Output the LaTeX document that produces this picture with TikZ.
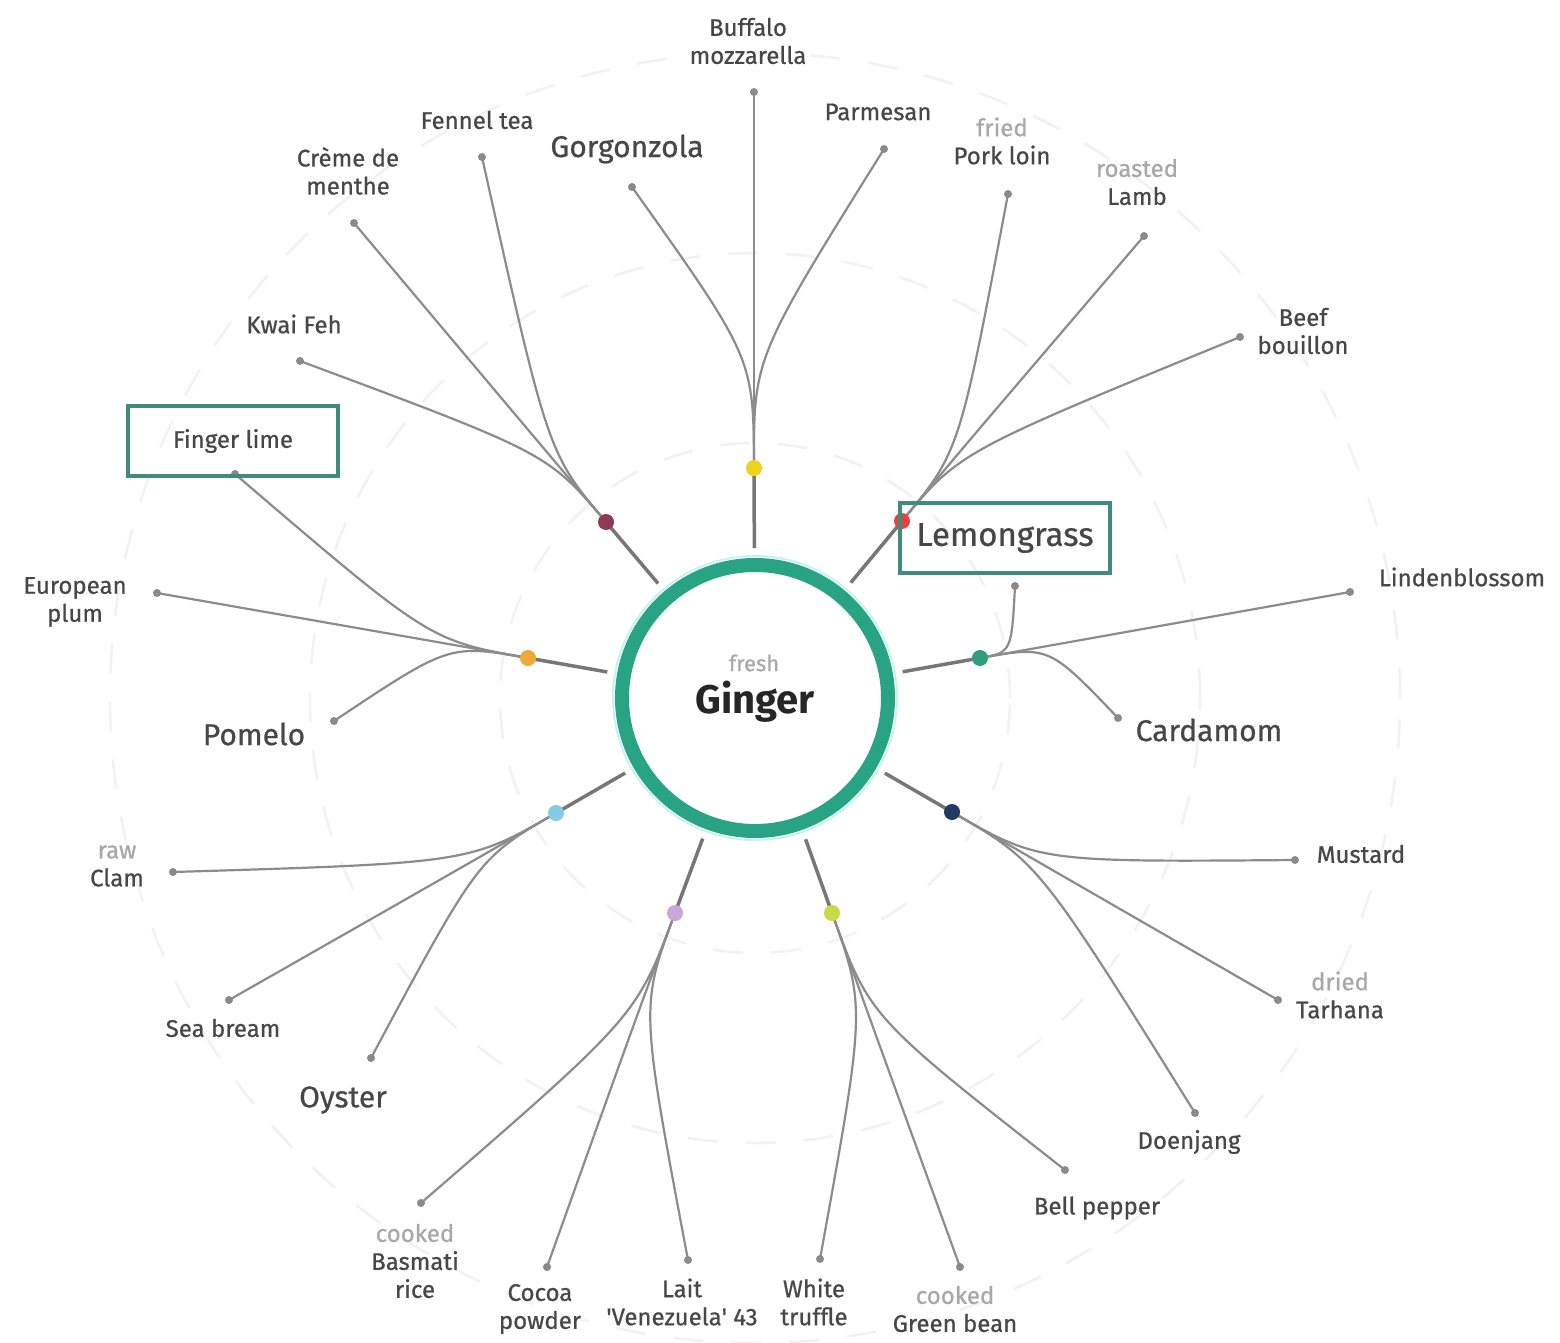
\documentclass[tikz,border=0pt]{standalone}
\usepackage{fontspec}
\setmainfont{Fira Sans}[FakeBold=0.7]
\newfontfamily\gingerfont{Fira Sans}[UprightFont={* Bold}, FakeBold=0]
\usetikzlibrary{calc}
\pgfdeclarelayer{back}
\pgfdeclarelayer{lines}
\pgfsetlayers{back,lines,main}
\definecolor{labc}{HTML}{474747}
\definecolor{modc}{HTML}{A8A8A8}
\definecolor{dotc}{HTML}{8A8A8A}
\definecolor{brc}{HTML}{8C8C8C}
\definecolor{spc}{HTML}{777777}
\definecolor{boxc}{HTML}{3F8B7D}
\definecolor{ringc}{HTML}{28A484}
\definecolor{haloc}{HTML}{C8F4EE}
\definecolor{faintc}{HTML}{F2F2F2}
\definecolor{cYel}{HTML}{EED21B}
\definecolor{cRed}{HTML}{E8403A}
\definecolor{cMar}{HTML}{8E3A55}
\definecolor{cOra}{HTML}{EEA93A}
\definecolor{cTea}{HTML}{2E9E7E}
\definecolor{cBlu}{HTML}{86CBE6}
\definecolor{cNav}{HTML}{203A60}
\definecolor{cPur}{HTML}{C9A6D6}
\definecolor{cGre}{HTML}{C9DA45}
\begin{document}
\begin{tikzpicture}[x=1pt,y=-1pt,
  lbl/.style={font=\fontsize{24}{28}\selectfont, text=labc, align=center, inner sep=1pt},
  biglbl/.style={font=\fontsize{30}{34}\selectfont, text=labc, align=center, inner sep=1pt},
  enddot/.style={circle, fill=dotc, inner sep=0pt, minimum size=8pt},
  hubdot/.style={circle, fill=#1, inner sep=0pt, minimum size=16pt},
  spokeln/.style={draw=spc, line width=3.5pt},
  brln/.style={draw=brc, line width=2.2pt},
  hlbox/.style={draw=boxc, line width=4pt, minimum height=70pt},
  faintcirc/.style={draw=faintc, line width=2.5pt, dash pattern=on 30pt off 28pt}
]
\useasboundingbox (0,0) rectangle (1560,1343);
\begin{pgfonlayer}{back}
  \fill[white] (0,0) rectangle (1560,1343);
  \draw[faintcirc] (755,698) circle (645pt);
  \draw[faintcirc] (755,698) circle (445pt);
  \draw[faintcirc] (755,698) circle (255pt);
  \draw[draw=haloc, line width=2pt] (755,698) circle (142pt);
\end{pgfonlayer}

% centre
\node[circle, draw=ringc, line width=14pt, minimum size=266pt, inner sep=0pt, outer sep=17pt] (ginger) at (755,698) {};
\node[font=\fontsize{22}{24}\selectfont, text=modc] (fresh) at (754,663) {fresh};
\node[font=\fontsize{40}{44}\gingerfont, text=black!85] (gname) at (755,702) {Ginger};

% hubs
\node[hubdot=cYel] (hY) at (754,468) {};
\node[hubdot=cRed] (hR) at (902,521) {};
\node[hubdot=cMar] (hM) at (606,522) {};
\node[hubdot=cOra] (hO) at (528,658) {};
\node[hubdot=cTea] (hT) at (980,658) {};
\node[hubdot=cBlu] (hB) at (556,813) {};
\node[hubdot=cNav] (hN) at (952,812) {};
\node[hubdot=cPur] (hP) at (675,913) {};
\node[hubdot=cGre] (hG) at (832,913) {};

% end dots
\node[enddot] (eBuf) at (754,92) {};
\node[enddot] (eParm) at (884,149) {};
\node[enddot] (ePork) at (1008,194) {};
\node[enddot] (eLamb) at (1144,236) {};
\node[enddot] (eBeef) at (1240,337) {};
\node[enddot] (eGorg) at (632,187) {};
\node[enddot] (eFen) at (482,157) {};
\node[enddot] (eCre) at (354,223) {};
\node[enddot] (eKwai) at (300,361) {};
\node[enddot] (eFin) at (235,474) {};
\node[enddot] (eEur) at (157,593) {};
\node[enddot] (ePom) at (334,721) {};
\node[enddot] (eLem) at (1015,586) {};
\node[enddot] (eLin) at (1350,592) {};
\node[enddot] (eCar) at (1118,718) {};
\node[enddot] (eClam) at (173,872) {};
\node[enddot] (eSea) at (229,1000) {};
\node[enddot] (eOys) at (371,1058) {};
\node[enddot] (eBas) at (421,1203) {};
\node[enddot] (eCoc) at (547,1267) {};
\node[enddot] (eLait) at (688,1260) {};
\node[enddot] (eWhi) at (820,1259) {};
\node[enddot] (eGre) at (960,1267) {};
\node[enddot] (eBell) at (1065,1170) {};
\node[enddot] (eDoe) at (1195,1113) {};
\node[enddot] (eTar) at (1278,1000) {};
\node[enddot] (eMus) at (1295,860) {};

% labels
\node[lbl] (lBuf) at (748,41) {Buffalo\\mozzarella};
\node[lbl] (lParm) at (878,112) {Parmesan};
\node[lbl] (lPork) at (1002,141) {{\color{modc}fried}\\Pork loin};
\node[lbl] (lLamb) at (1137,182) {{\color{modc}roasted}\\Lamb};
\node[lbl] (lBeef) at (1303,331) {Beef\\bouillon};
\node[biglbl] (lGorg) at (627,149) {Gorgonzola};
\node[lbl] (lFen) at (477,120) {Fennel tea};
\node[lbl] (lCre) at (348,171) {Crème de\\menthe};
\node[lbl] (lKwai) at (294,324) {Kwai Feh};
\node[lbl, hlbox, minimum width=210pt] (lFin) at (233,441) {Finger lime};
\node[lbl] (lEur) at (75,602) {European\\plum};
\node[biglbl] (lPom) at (254,734) {Pomelo};
\node[biglbl, hlbox, minimum width=210pt, font=\fontsize{33}{36}\selectfont] (lLem) at (1005,538) {Lemongrass};
\node[lbl] (lLin) at (1462,577) {Lindenblossom};
\node[biglbl] (lCar) at (1209,730) {Cardamom};
\node[lbl] (lClam) at (117,866) {{\color{modc}raw}\\Clam};
\node[lbl] (lSea) at (223,1028) {Sea bream};
\node[biglbl] (lOys) at (343,1100) {Oyster};
\node[lbl] (lBas) at (415,1261) {{\color{modc}cooked}\\Basmati\\rice};
\node[lbl] (lCoc) at (540,1309) {Cocoa\\powder};
\node[lbl] (lLait) at (682,1302) {Lait\\\textquotesingle Venezuela\textquotesingle\ 43};
\node[lbl] (lWhi) at (814,1302) {White\\truffle};
\node[lbl] (lGre) at (955,1309) {{\color{modc}cooked}\\Green bean};
\node[lbl] (lBell) at (1097,1208) {Bell pepper};
\node[lbl] (lDoe) at (1189,1142) {Doenjang};
\node[lbl] (lTar) at (1340,995) {{\color{modc}dried}\\Tarhana};
\node[lbl] (lMus) at (1361,854) {Mustard};

\begin{pgfonlayer}{lines}
  % spokes
  \foreach \h in {hY,hR,hM,hO,hT,hB,hN,hP,hG}
    \draw[spokeln] (ginger) -- (\h.center);
  % yellow
  \draw[brln] (hY.center) -- (eBuf.center);
  \draw[brln] (hY.center) .. controls ($(hY)!-110pt!(ginger)$) .. (eGorg.center);
  \draw[brln] (hY.center) .. controls ($(hY)!-110pt!(ginger)$) .. (eParm.center);
  % red
  \draw[brln] (hR.center) .. controls ($(hR)!-90pt!(ginger)$) .. (ePork.center);
  \draw[brln] (hR.center) .. controls ($(hR)!-90pt!(ginger)$) .. (eLamb.center);
  \draw[brln] (hR.center) .. controls ($(hR)!-90pt!(ginger)$) .. (eBeef.center);
  % maroon
  \draw[brln] (hM.center) .. controls ($(hM)!-90pt!(ginger)$) .. (eFen.center);
  \draw[brln] (hM.center) .. controls ($(hM)!-90pt!(ginger)$) .. (eCre.center);
  \draw[brln] (hM.center) .. controls ($(hM)!-90pt!(ginger)$) .. (eKwai.center);
  % orange
  \draw[brln] (hO.center) .. controls ($(hO)!-100pt!(ginger)$) .. (eFin.center);
  \draw[brln] (hO.center) .. controls ($(hO)!-100pt!(ginger)$) .. (eEur.center);
  \draw[brln] (hO.center) .. controls ($(hO)!-80pt!(ginger)$) .. (ePom.center);
  % teal
  \draw[brln] (hT.center) .. controls ($(hT)!-32pt!(ginger)$) .. (eLem.center);
  \draw[brln] (hT.center) .. controls ($(hT)!-100pt!(ginger)$) .. (eLin.center);
  \draw[brln] (hT.center) .. controls ($(hT)!-70pt!(ginger)$) .. (eCar.center);
  % light blue
  \draw[brln] (hB.center) .. controls ($(hB)!-100pt!(ginger)$) .. (eClam.center);
  \draw[brln] (hB.center) .. controls ($(hB)!-100pt!(ginger)$) .. (eSea.center);
  \draw[brln] (hB.center) .. controls ($(hB)!-90pt!(ginger)$) .. (eOys.center);
  % navy
  \draw[brln] (hN.center) .. controls ($(hN)!-100pt!(ginger)$) .. (eMus.center);
  \draw[brln] (hN.center) .. controls ($(hN)!-100pt!(ginger)$) .. (eTar.center);
  \draw[brln] (hN.center) .. controls ($(hN)!-100pt!(ginger)$) .. (eDoe.center);
  % purple
  \draw[brln] (hP.center) .. controls ($(hP)!-110pt!(ginger)$) .. (eBas.center);
  \draw[brln] (hP.center) .. controls ($(hP)!-110pt!(ginger)$) .. (eCoc.center);
  \draw[brln] (hP.center) .. controls ($(hP)!-100pt!(ginger)$) .. (eLait.center);
  % yellow-green
  \draw[brln] (hG.center) .. controls ($(hG)!-100pt!(ginger)$) .. (eWhi.center);
  \draw[brln] (hG.center) .. controls ($(hG)!-110pt!(ginger)$) .. (eGre.center);
  \draw[brln] (hG.center) .. controls ($(hG)!-110pt!(ginger)$) .. (eBell.center);
\end{pgfonlayer}
\end{tikzpicture}
\end{document}
